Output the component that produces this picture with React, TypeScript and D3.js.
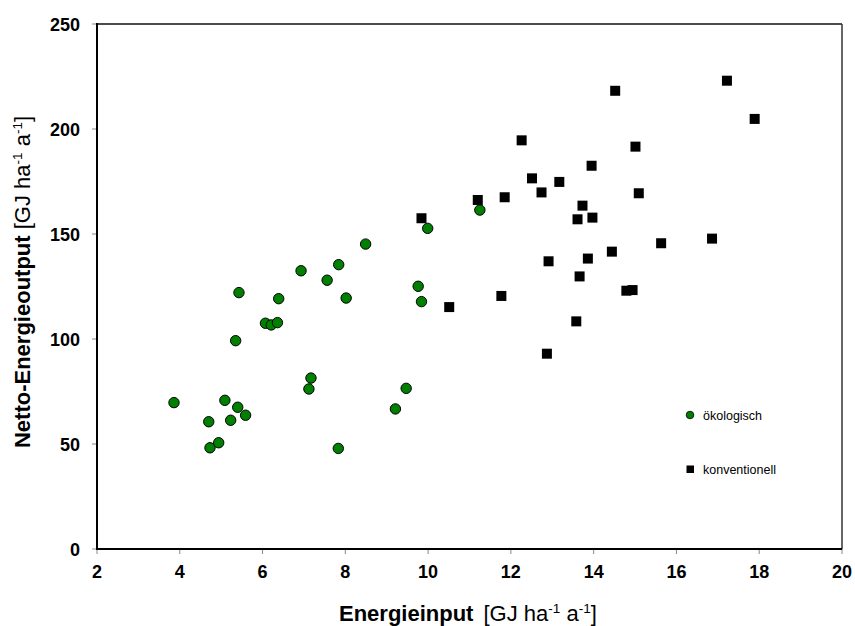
import React from "react";
import * as d3 from "d3";

const oekoX = [3.86, 4.70, 4.73, 4.94, 5.09, 5.23, 5.40, 5.59, 5.35, 5.43, 6.07, 6.21, 6.36, 6.39, 6.93, 7.56, 7.84, 8.02, 8.49, 7.12, 7.17, 7.83, 9.21, 9.47, 9.76, 9.84, 9.99, 11.25];
const oekoY = [69.7, 60.6, 48.2, 50.6, 70.8, 61.3, 67.5, 63.7, 99.2, 122.1, 107.5, 106.7, 107.8, 119.2, 132.5, 128.0, 135.4, 119.5, 145.2, 76.2, 81.4, 47.9, 66.7, 76.5, 125.1, 117.8, 152.7, 161.4];

const konvX = [14.52, 17.22, 17.89, 12.26, 15.01, 13.95, 12.51, 13.17, 12.74, 15.09, 11.20, 11.85, 13.73, 13.61, 13.97, 9.84, 16.86, 15.63, 14.44, 13.86, 12.91, 13.66, 14.79, 14.94, 11.77, 10.51, 13.58, 12.87];
const konvY = [218.2, 223.0, 204.8, 194.6, 191.6, 182.5, 176.5, 174.8, 169.8, 169.4, 166.2, 167.5, 163.5, 157.0, 157.8, 157.5, 147.8, 145.6, 141.6, 138.3, 137.0, 129.8, 123.0, 123.3, 120.5, 115.2, 108.4, 93.0];

const xTicks = [2, 4, 6, 8, 10, 12, 14, 16, 18, 20];
const yTicks = [0, 50, 100, 150, 200, 250];

const legendLabels = ["ökologisch", "konventionell"];

const W = 855;
const H = 626;
const M = { left: 97, right: 842, top: 24, bottom: 549 };
const FONT = "'Liberation Sans', Arial, Helvetica, sans-serif";

export default function App() {
  const x = d3.scaleLinear().domain([2, 20]).range([M.left, M.right]);
  const y = d3.scaleLinear().domain([0, 250]).range([M.bottom, M.top]);
  const sq = 10;

  return (
    <svg
      width={W}
      height={H}
      style={{ position: "absolute", left: 0, top: 0, background: "#fff" }}
      fontFamily={FONT}
    >
      <rect x={0} y={0} width={W} height={H} fill="#fff" />
      {/* frame */}
      <line x1={M.left} x2={M.right} y1={M.top} y2={M.top} stroke="#111" strokeWidth={1.5} />
      <line x1={M.right} x2={M.right} y1={M.top} y2={M.bottom} stroke="#333" strokeWidth={1.5} />
      {/* y ticks */}
      {yTicks.map((t) => (
        <g key={"y" + t}>
          <line x1={M.left - 5} x2={M.left} y1={y(t)} y2={y(t)} stroke="#888" strokeWidth={1} />
          <text x={80} y={y(t) + 7} textAnchor="end" fontSize={18} fontWeight="bold" fill="#000">
            {t}
          </text>
        </g>
      ))}
      {/* x ticks */}
      {xTicks.map((t) => (
        <g key={"x" + t}>
          <line x1={x(t)} x2={x(t)} y1={M.bottom} y2={M.bottom + 5} stroke="#888" strokeWidth={1} />
          <text x={x(t)} y={578} textAnchor="middle" fontSize={18} fontWeight="bold" fill="#000">
            {t}
          </text>
        </g>
      ))}
      {/* axes */}
      <line x1={M.left} x2={M.left} y1={M.top - 1} y2={M.bottom + 1} stroke="#000" strokeWidth={2} />
      <line x1={M.left - 1} x2={M.right} y1={M.bottom} y2={M.bottom} stroke="#000" strokeWidth={2} />

      {/* konventionell squares */}
      {konvX.map((v, i) => (
        <rect
          key={"k" + i}
          x={x(v) - sq / 2}
          y={y(konvY[i]) - sq / 2}
          width={sq}
          height={sq}
          fill="#000"
        />
      ))}
      {/* oekologisch circles */}
      {oekoX.map((v, i) => (
        <circle key={"o" + i} cx={x(v)} cy={y(oekoY[i])} r={5.2} fill="#008000" stroke="#000" strokeWidth={1} />
      ))}

      {/* legend */}
      <circle cx={690} cy={415} r={3.8} fill="#008000" stroke="#000" strokeWidth={0.8} />
      <text x={703} y={419.5} fontSize={12.5} fill="#000">{legendLabels[0]}</text>
      <rect x={686.5} y={465.5} width={7.5} height={7.5} fill="#000" />
      <text x={703} y={473.5} fontSize={12.5} fill="#000">{legendLabels[1]}</text>

      {/* x label */}
      <text x={339} y={621} fontSize={22} fill="#000">
        <tspan fontWeight="bold">Energieinput</tspan>
        <tspan dx={10}>[GJ ha</tspan>
        <tspan fontSize={13.5} dy={-8}>-1</tspan>
        <tspan dy={8}> a</tspan>
        <tspan fontSize={13.5} dy={-8}>-1</tspan>
        <tspan dy={8}>]</tspan>
      </text>

      {/* y label */}
      <text transform="translate(30,282) rotate(-90)" textAnchor="middle" fontSize={22} fill="#000">
        <tspan fontWeight="bold">Netto-Energieoutput</tspan>
        <tspan> [GJ ha</tspan>
        <tspan fontSize={13.5} dy={-8}>-1</tspan>
        <tspan dy={8}> a</tspan>
        <tspan fontSize={13.5} dy={-8}>-1</tspan>
        <tspan dy={8}>]</tspan>
      </text>
    </svg>
  );
}
